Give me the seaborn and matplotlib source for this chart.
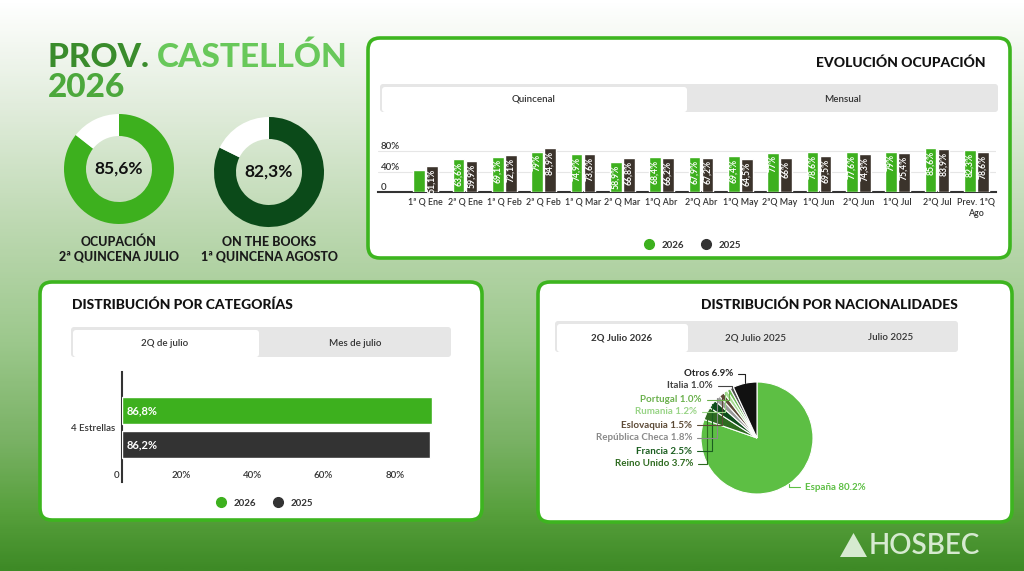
import numpy as np
import pandas as pd
import matplotlib
matplotlib.use("Agg")
import matplotlib.pyplot as plt
import seaborn as sns
from matplotlib.patches import FancyBboxPatch, Polygon
from matplotlib.lines import Line2D
import matplotlib.transforms as mtrans
from matplotlib.colors import LinearSegmentedColormap

sns.set_style("white")
plt.rcParams['font.family'] = ['Lato', 'DejaVu Sans']

# ---------------- data ----------------
title_l1a, title_l1b, title_l2 = "PROV.", "CASTELLÓN", "2026"

kpi_values = [85.6, 82.3]
kpi_labels = ["OCUPACIÓN\n2ª QUINCENA JULIO", "ON THE BOOKS\n1ª QUINCENA AGOSTO"]

periods = ["1ª Q Ene", "2ª Q Ene", "1ª Q Feb", "2ª Q Feb", "1ª Q Mar", "2ª Q Mar",
           "1ªQ Abr", "2ªQ Abr", "1ªQ May", "2ªQ May", "1ªQ Jun", "2ªQ Jun",
           "1ªQ Jul", "2ªQ Jul", "Prev. 1ªQ\nAgo"]
occ_2026 = [43.0, 63.6, 69.1, 79.0, 74.9, 58.9, 68.4, 67.9, 69.4, 77.0, 78.6, 77.6, 79.0, 85.6, 82.3]
occ_2025 = [51.1, 59.9, 72.1, 84.9, 73.6, 66.8, 66.2, 67.2, 64.5, 66.0, 69.5, 74.3, 75.4, 83.9, 78.6]
hidden_2026 = [True] + [False] * 14   # first label not shown in the original
years = ["2026", "2025"]

cat_names = ["4 Estrellas"]
cat_2026 = [86.8]
cat_2025 = [86.2]
cat_ticks = [0, 20, 40, 60, 80]
cat_ticklabels = ["0", "20%", "40%", "60%", "80%"]

nat_names = ["España", "Reino Unido", "Francia", "República Checa", "Eslovaquia",
             "Rumania", "Portugal", "Italia", "Otros"]
nat_share = [80.2, 3.7, 2.5, 1.8, 1.5, 1.2, 1.0, 1.0, 6.9]

tabs_evol = ["Quincenal", "Mensual"]
tabs_cat = ["2Q de julio", "Mes de julio"]
tabs_nat = ["2Q Julio 2026", "2Q Julio 2025", "Julio 2025"]

# ---------------- styles ----------------
GREEN = "#3db01e"
DKGREEN = "#0b4a19"
BROWN = "#3b332b"
DARK = "#333333"
BORDER = "#3db51f"
nat_colors = ["#5dbf44", "#2e6b20", "#0f4d1c", "#9a9a9a", "#5c4a36",
              "#a8dc94", "#6dba55", "#4d4d4d", "#111111"]
nat_text_colors = ["#5dbf44", "#2e6b20", "#1b5e20", "#8a8a8a", "#5c4a36",
                   "#98d486", "#6ab04c", "#444444", "#222222"]

W, H = 1024, 571
fig = plt.figure(figsize=(W / 100, H / 100), dpi=100)


def px_axes(x0, y0, x1, y1):
    return fig.add_axes([x0 / W, 1 - y1 / H, (x1 - x0) / W, (y1 - y0) / H])


# ---------------- background ----------------
bg = fig.add_axes([0, 0, 1, 1])
bg.set_xlim(0, W)
bg.set_ylim(H, 0)
bg.axis("off")
stops = [(0.0, "#ffffff"), (0.18, "#e2eddd"), (0.4, "#bcd8b0"), (0.6, "#9cc88c"),
         (0.78, "#78b163"), (0.9, "#57a03c"), (1.0, "#3e8a26")]
cmap = LinearSegmentedColormap.from_list("bgg", stops)
grad = np.linspace(0, 1, 300).reshape(-1, 1)
bg.imshow(grad, extent=(0, W, H, 0), aspect="auto", cmap=cmap, zorder=0)


def panel(x0, y0, x1, y1):
    bg.add_patch(FancyBboxPatch((x0, y0), x1 - x0, y1 - y0,
                                boxstyle="round,pad=0,rounding_size=12",
                                fc="white", ec=BORDER, lw=2.6, zorder=1))


def tabs(x0, x1, y0, y1, names, sel_w, bold_sel=False, fs=7):
    bg.add_patch(FancyBboxPatch((x0, y0), x1 - x0, y1 - y0,
                                boxstyle="round,pad=0,rounding_size=3",
                                fc="#e6e6e6", ec="none", zorder=2))
    bg.add_patch(FancyBboxPatch((x0 + 2, y0 + 3), sel_w - 2, y1 - y0 - 3,
                                boxstyle="round,pad=0,rounding_size=3",
                                fc="white", ec="none", zorder=3))
    n = len(names)
    if n == 2:
        centers = [x0 + sel_w / 2, x0 + sel_w + (x1 - x0 - sel_w) / 2]
    else:
        rest = (x1 - x0 - sel_w) / (n - 1)
        centers = [x0 + sel_w / 2] + [x0 + sel_w + rest * (i + 0.5) for i in range(n - 1)]
    for i, (c, nm) in enumerate(zip(centers, names)):
        bg.text(c, (y0 + y1) / 2 + 1, nm, ha="center", va="center", fontsize=fs,
                color="#333333", fontweight="bold" if (i == 0 and bold_sel) else "semibold",
                zorder=4)


panel(368, 38, 1010, 258)
panel(40, 282, 482, 520)
panel(538, 282, 1012, 522)

# ---------------- title ----------------
t1 = bg.text(48, 67, title_l1a + " ", fontsize=24, fontweight="black", color="#3a8c2c",
             va="baseline", ha="left", zorder=5)
fig.canvas.draw()
bb = t1.get_window_extent()
x_next = 48 + bb.width
bg.text(x_next, 67, title_l1b, fontsize=24, fontweight="black", color="#68c85a",
        va="baseline", ha="left", zorder=5)
bg.text(48, 97, title_l2, fontsize=24, fontweight="black", color="#4ca83c",
        va="baseline", ha="left", zorder=5)

# ---------------- KPI donuts ----------------
kpi_colors = [GREEN, DKGREEN]
kpi_centers = [(119, 169), (269, 172)]
R = 55
for val, lab, col, (cx, cy) in zip(kpi_values, kpi_labels, kpi_colors, kpi_centers):
    axd = px_axes(cx - R, cy - R, cx + R, cy + R)
    axd.pie([val, 100 - val], colors=[col, "white"], startangle=90, counterclock=False,
            radius=1, wedgeprops=dict(width=0.4, edgecolor="none"))
    axd.set_xlim(-1, 1)
    axd.set_ylim(-1, 1)
    axd.set_aspect("auto")
    axd.axis("off")
    axd.text(0, 0, f"{val:.1f}%".replace(".", ","), ha="center", va="center",
             fontsize=12.5, fontweight="bold", color="#111111")
    bg.text(cx, 249, lab, ha="center", va="center", fontsize=9, fontweight="black",
            color="#1a1a1a", linespacing=1.25, zorder=5)

# ---------------- Evolución ocupación ----------------
bg.text(985, 63, "EVOLUCIÓN OCUPACIÓN", ha="right", va="center", fontsize=10,
        fontweight="black", color="#111111", zorder=5)
tabs(380, 998, 84, 112, tabs_evol, 307)

df_evol = pd.DataFrame({
    "Periodo": periods * 2,
    "Ocupación": occ_2026 + occ_2025,
    "Año": [years[0]] * len(periods) + [years[1]] * len(periods),
})
ax1 = px_axes(378, 140.75, 996, 192)
ax1.patch.set_alpha(0)
sns.barplot(data=df_evol, x="Periodo", y="Ocupación", hue="Año", hue_order=years,
            palette=[GREEN, BROWN], width=0.66, gap=0.12, saturation=1,
            errorbar=None, legend=False, ax=ax1, zorder=3)
ax1.set_xlim(-1.212, 14.5)
ax1.set_ylim(0, 100)
ax1.set_xlabel("")
ax1.set_ylabel("")
for s in ["top", "right", "left"]:
    ax1.spines[s].set_visible(False)
ax1.spines["bottom"].set_color(DARK)
ax1.spines["bottom"].set_linewidth(1.5)
ax1.set_yticks([0, 40, 80], ["0", "40%", "80%"])
ax1.yaxis.grid(True, color="#e6e6e6", lw=0.8)
ax1.set_axisbelow(True)
ax1.tick_params(axis="y", length=0, pad=-2, labelsize=7, labelcolor="#333333")
for lbl in ax1.get_yticklabels():
    lbl.set_ha("left")
    lbl.set_va("bottom")
    lbl.set_fontweight("semibold")
ax1.set_xticks(range(len(periods)), periods)
ax1.set_xticks(np.arange(-0.5, len(periods), 1), minor=True)
ax1.tick_params(axis="x", which="major", length=0, pad=4.2, labelsize=6.4, labelcolor="#333333")
ax1.tick_params(axis="x", which="minor", length=23.8, width=1, color="#9a9a9a", direction="out")
for lbl in ax1.get_xticklabels():
    lbl.set_fontweight("semibold")
    lbl.set_linespacing(1.35)

for cont, vals, hid in [(ax1.containers[0], occ_2026, hidden_2026),
                        (ax1.containers[1], occ_2025, [False] * len(occ_2025))]:
    for patch, v, h in zip(cont.patches, vals, hid):
        if h:
            continue
        ax1.annotate(f"{v:g}".replace(".", ",") + "%",
                     (patch.get_x() + patch.get_width() / 2, patch.get_height()),
                     xytext=(0, -2), textcoords="offset points", rotation=90,
                     ha="center", va="top", fontsize=6.2, fontweight="bold",
                     color="white", zorder=5)

handles = [Line2D([], [], marker="o", ls="", color=GREEN, markersize=7),
           Line2D([], [], marker="o", ls="", color=DARK, markersize=7)]
fig.legend(handles, years, loc="center", bbox_to_anchor=(690 / W, 1 - 245 / H), ncol=2,
           frameon=False, prop={"size": 7, "weight": "bold"}, handletextpad=0.3,
           columnspacing=1.3, labelcolor="#333333")

# ---------------- Distribución por categorías ----------------
bg.text(72, 305, "DISTRIBUCIÓN POR CATEGORÍAS", ha="left", va="center", fontsize=10,
        fontweight="black", color="#111111", zorder=5)
tabs(71, 451, 327, 357, tabs_cat, 188)

df_cat = pd.DataFrame({
    "Categoría": cat_names * 2,
    "Ocupación": cat_2026 + cat_2025,
    "Año": [years[0]] * len(cat_names) + [years[1]] * len(cat_names),
})
ax2 = px_axes(122, 372, 479, 482)
ax2.patch.set_alpha(0)
sns.barplot(data=df_cat, y="Categoría", x="Ocupación", hue="Año", hue_order=years,
            orient="h", palette=[GREEN, DARK], width=0.88, gap=0.2, saturation=1,
            errorbar=None, legend=False, ax=ax2, zorder=3)
ax2.set_xlim(0, 100)
ax2.set_ylim(0.708, -0.721)
ax2.set_xlabel("")
ax2.set_ylabel("")
for s in ["top", "right", "bottom"]:
    ax2.spines[s].set_visible(False)
ax2.spines["left"].set_color(DARK)
ax2.spines["left"].set_linewidth(1.5)
ax2.set_xticks(cat_ticks, cat_ticklabels)
ax2.tick_params(axis="x", length=0, pad=-7.9, labelsize=7, labelcolor="#333333")
off = mtrans.ScaledTranslation(-3 / 100, 0, fig.dpi_scale_trans)
for lbl in ax2.get_xticklabels():
    lbl.set_ha("right")
    lbl.set_fontweight("semibold")
    lbl.set_transform(lbl.get_transform() + off)
ax2.set_yticks(np.arange(-0.5, len(cat_names), 1), minor=True)
ax2.tick_params(axis="y", which="major", length=0, pad=5, labelsize=7, labelcolor="#333333")
ax2.tick_params(axis="y", which="minor", length=37.4, width=1, color="#9a9a9a", direction="out")
for lbl in ax2.get_yticklabels():
    lbl.set_fontweight("semibold")
for cont, vals in [(ax2.containers[0], cat_2026), (ax2.containers[1], cat_2025)]:
    for patch, v in zip(cont.patches, vals):
        ax2.annotate(f"{v:.1f}%".replace(".", ","),
                     (patch.get_x(), patch.get_y() + patch.get_height() / 2),
                     xytext=(3, 0), textcoords="offset points", ha="left", va="center",
                     fontsize=8, fontweight="bold", color="white", zorder=5)
fig.legend(handles, years, loc="center", bbox_to_anchor=(262 / W, 1 - 503 / H), ncol=2,
           frameon=False, prop={"size": 7, "weight": "bold"}, handletextpad=0.3,
           columnspacing=1.3, labelcolor="#333333")

# ---------------- Distribución por nacionalidades ----------------
bg.text(958, 305, "DISTRIBUCIÓN POR NACIONALIDADES", ha="right", va="center", fontsize=10,
        fontweight="black", color="#111111", zorder=5)
tabs(555, 958, 321, 352, tabs_nat, 133, bold_sel=True)

PCX, PCY, PR = 757, 438, 56
ax3 = px_axes(560, 360, 1000, 515)
ax3.axis("off")
wedges, _ = ax3.pie(nat_share, colors=nat_colors, startangle=90, counterclock=False,
                    radius=1, wedgeprops=dict(edgecolor="white", linewidth=0.8))
ax3.set_xlim((560 - PCX) / PR, (1000 - PCX) / PR)
ax3.set_ylim((PCY - 515) / PR, (PCY - 360) / PR)
ax3.set_aspect("auto")

# label layout (pixels): right end for small slices, left start for the big one
label_px = [(805, 487, "left"), (693, 464, "right"), (692, 451, "right"),
            (692, 438, "right"), (692, 425, "right"), (697, 412, "right"),
            (702, 400, "right"), (713, 386, "right"), (733, 374, "right")]
for w, name, share, tc, (lx, ly, ha) in zip(wedges, nat_names, nat_share,
                                             nat_text_colors, label_px):
    th = np.deg2rad((w.theta1 + w.theta2) / 2)
    px, py = np.cos(th), np.sin(th)
    tx, ty = (lx - PCX) / PR, (PCY - ly) / PR
    rel = (0, 0.5) if ha == "left" else (1, 0.5)
    ax3.annotate(f"{name} {share:.1f}%", xy=(px, py), xytext=(tx, ty),
                 ha=ha, va="center", fontsize=7, fontweight="bold", color=tc,
                 arrowprops=dict(arrowstyle="-", color=tc, lw=0.8, shrinkA=1, shrinkB=0,
                                 relpos=rel, connectionstyle="angle,angleA=0,angleB=90,rad=0"))

# ---------------- logo ----------------
bg.add_patch(Polygon([(840, 557), (867, 557), (853.5, 533)], closed=True,
                     fc="#d6ead0", ec="none", zorder=5))
bg.text(869, 546, "HOSBEC", ha="left", va="center", fontsize=20, fontweight="semibold",
        color="#d6ead0", zorder=5)

fig.savefig("out.png", dpi=100)
